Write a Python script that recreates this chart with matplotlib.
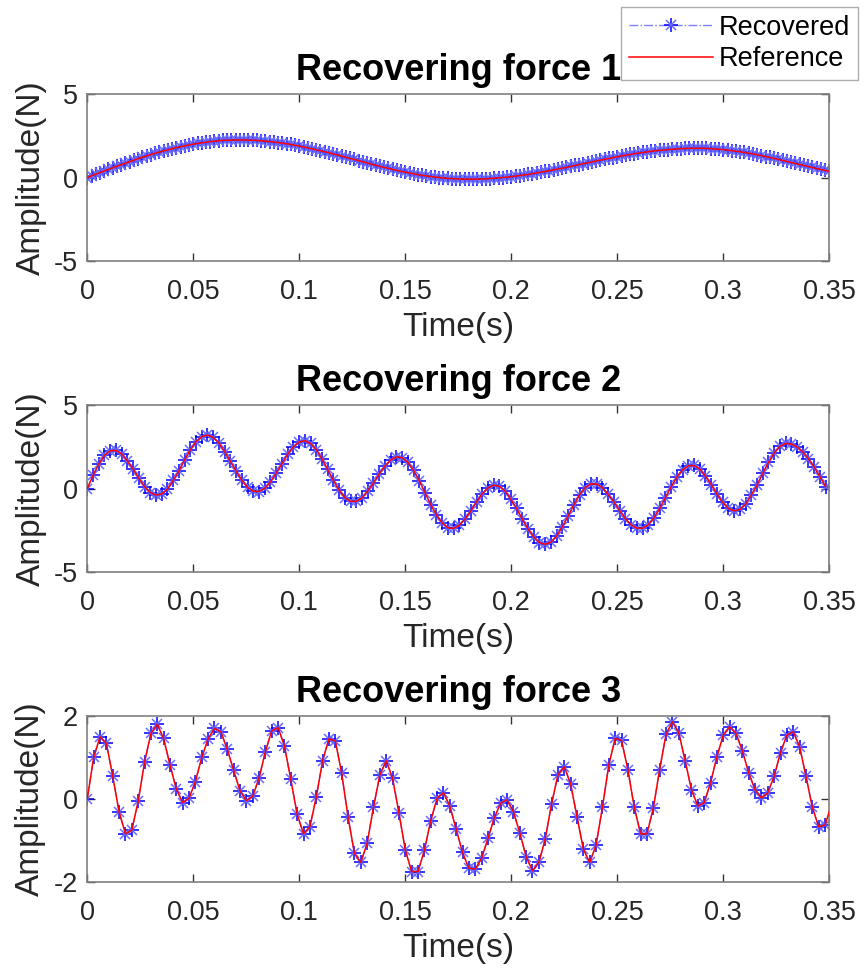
import numpy as np
import matplotlib
matplotlib.use("Agg")
import matplotlib.pyplot as plt
from matplotlib.legend_handler import HandlerTuple

plt.rcParams["font.family"] = ["Liberation Sans", "DejaVu Sans"]

# sampled recovering forces (N)
DT1 = 0.002
force1 = [
    0.00, 0.10, 0.20, 0.29, 0.39, 0.49, 0.58, 0.68, 0.77, 0.86,
    0.95, 1.04, 1.13, 1.21, 1.29, 1.37, 1.45, 1.52, 1.59, 1.66,
    1.72, 1.79, 1.84, 1.90, 1.95, 2.00, 2.04, 2.08, 2.11, 2.15,
    2.17, 2.20, 2.22, 2.23, 2.24, 2.25, 2.25, 2.25, 2.24, 2.23,
    2.22, 2.20, 2.18, 2.15, 2.13, 2.09, 2.06, 2.02, 1.98, 1.93,
    1.88, 1.83, 1.78, 1.72, 1.66, 1.60, 1.54, 1.48, 1.41, 1.35,
    1.28, 1.21, 1.14, 1.08, 1.01, 0.94, 0.87, 0.80, 0.74, 0.67,
    0.61, 0.55, 0.49, 0.43, 0.37, 0.32, 0.27, 0.22, 0.17, 0.13,
    0.09, 0.06, 0.03, 0.00, -0.03, -0.05, -0.07, -0.08, -0.09, -0.10,
    -0.10, -0.10, -0.09, -0.09, -0.08, -0.06, -0.04, -0.02, 0.00, 0.02,
    0.05, 0.08, 0.12, 0.15, 0.19, 0.23, 0.27, 0.32, 0.36, 0.41,
    0.46, 0.51, 0.56, 0.61, 0.66, 0.72, 0.77, 0.83, 0.88, 0.93,
    0.99, 1.04, 1.09, 1.14, 1.19, 1.24, 1.29, 1.33, 1.38, 1.42,
    1.46, 1.50, 1.53, 1.57, 1.60, 1.63, 1.65, 1.67, 1.69, 1.71,
    1.73, 1.74, 1.74, 1.75, 1.75, 1.75, 1.74, 1.73, 1.71, 1.69,
    1.67, 1.64, 1.61, 1.57, 1.54, 1.50, 1.45, 1.41, 1.36, 1.31,
    1.25, 1.20, 1.14, 1.08, 1.02, 0.96, 0.90, 0.84, 0.78, 0.72,
    0.66, 0.60, 0.54, 0.48, 0.43, 0.37,
]

DT2 = 0.0027
force2 = [
    0.00, 0.78, 1.46, 1.98, 2.26, 2.28, 2.07, 1.65, 1.17, 0.61,
    0.12, -0.24, -0.39, -0.33, -0.04, 0.49, 1.05, 1.71, 2.32, 2.81,
    3.11, 3.20, 3.06, 2.72, 2.21, 1.63, 1.04, 0.49, 0.07, -0.16,
    -0.18, 0.01, 0.40, 0.92, 1.49, 2.05, 2.49, 2.78, 2.86, 2.70,
    2.33, 1.77, 1.14, 0.48, -0.10, -0.54, -0.77, -0.77, -0.56, -0.14,
    0.33, 0.87, 1.35, 1.71, 1.89, 1.85, 1.57, 1.09, 0.46, -0.25,
    -0.96, -1.59, -2.06, -2.35, -2.39, -2.20, -1.83, -1.34, -0.80, -0.32,
    0.04, 0.20, 0.13, -0.15, -0.65, -1.19, -1.83, -2.42, -2.90, -3.24,
    -3.34, -3.21, -2.84, -2.28, -1.65, -0.98, -0.38, 0.06, 0.28, 0.26,
    0.05, -0.35, -0.80, -1.32, -1.81, -2.17, -2.37, -2.38, -2.17, -1.75,
    -1.19, -0.55, 0.10, 0.68, 1.12, 1.36, 1.38, 1.17, 0.74, 0.24,
    -0.33, -0.83, -1.19, -1.34, -1.25, -0.94, -0.39, 0.20, 0.90, 1.56,
    2.13, 2.52, 2.70, 2.66, 2.49, 2.19, 1.78, 1.28, 0.71, 0.11,
]

DT3 = 0.003
force3 = [
    0.00, 1.00, 1.50, 1.34, 0.55, -0.31, -0.84, -0.75, -0.06, 0.88,
    1.58, 1.80, 1.46, 0.82, 0.24, -0.09, 0.02, 0.42, 1.00, 1.45,
    1.70, 1.62, 1.20, 0.70, 0.20, -0.04, 0.06, 0.50, 1.14, 1.64,
    1.72, 1.28, 0.47, -0.37, -0.84, -0.67, 0.04, 0.92, 1.45, 1.40,
    0.62, -0.43, -1.31, -1.53, -1.07, -0.20, 0.58, 0.92, 0.50, -0.33,
    -1.23, -1.75, -1.75, -1.24, -0.53, 0.02, 0.15, -0.17, -0.73, -1.29,
    -1.67, -1.69, -1.43, -0.95, -0.45, -0.10, -0.02, -0.31, -0.81, -1.39,
    -1.73, -1.53, -0.97, -0.12, 0.58, 0.78, 0.36, -0.43, -1.21, -1.53,
    -1.11, -0.20, 0.82, 1.46, 1.41, 0.71, -0.20, -0.84, -0.84, -0.22,
    0.71, 1.56, 1.86, 1.60, 0.92, 0.22, -0.17, -0.09, 0.39, 1.02,
    1.54, 1.74, 1.58, 1.16, 0.63, 0.22, 0.02, 0.15, 0.55, 1.12,
    1.54, 1.62, 1.26, 0.55, -0.20, -0.67, -0.63,
]
force3_end = -0.30  # reference value at t = 0.35 s

titles = ["Recovering force 1", "Recovering force 2", "Recovering force 3"]
ylims = [(-5, 5), (-5, 5), (-2, 2)]
yticks = [[-5, 0, 5], [-5, 0, 5], [-2, 0, 2]]
xticks = [0, 0.05, 0.1, 0.15, 0.2, 0.25, 0.3, 0.35]
xticklabels = ["0", "0.05", "0.1", "0.15", "0.2", "0.25", "0.3", "0.35"]

t1 = np.arange(len(force1)) * DT1
t2 = np.arange(len(force2)) * DT2
t3 = np.arange(len(force3)) * DT3

series = [
    (t1, force1, t1, force1),
    (t2, force2, t2, force2),
    (t3, force3, np.append(t3, 0.35), force3 + [force3_end]),
]

fig = plt.figure(figsize=(8.65, 9.74), dpi=100)
positions = [
    [0.1009, 0.7320, 0.8578, 0.1715],
    [0.1009, 0.4127, 0.8578, 0.1715],
    [0.1009, 0.0945, 0.8578, 0.1704],
]

SPINE = "#808080"
handles = None
for i, pos in enumerate(positions):
    ax = fig.add_axes(pos)
    t_rec, rec, t_ref, ref = series[i]
    h_plus, = ax.plot(t_rec, rec, linestyle="-.", color="#8080ff", lw=1.0,
                      marker="+", markersize=10, markeredgecolor="blue",
                      markeredgewidth=1.1, zorder=2)
    h_x, = ax.plot(t_rec, rec, linestyle="none", marker="x", markersize=7,
                   markeredgecolor="#6b6bff", markeredgewidth=1.1, zorder=2)
    h_ref, = ax.plot(t_ref, ref, color="red", lw=1.1, zorder=3)
    handles = [(h_plus, h_x), h_ref]

    ax.set_xlim(0, 0.35)
    ax.set_ylim(*ylims[i])
    ax.set_xticks(xticks)
    ax.set_xticklabels(xticklabels)
    ax.set_yticks(yticks[i])
    ax.set_yticklabels([str(v) for v in yticks[i]])
    ax.tick_params(direction="in", top=True, right=True, length=6,
                   width=1, color="#333333", labelsize=19.5,
                   labelcolor="#262626")
    ax.tick_params(axis="x", pad=13)
    ax.tick_params(axis="y", pad=7)
    for sp in ax.spines.values():
        sp.set_color(SPINE)
        sp.set_linewidth(1.2)
    ax.set_title(titles[i], fontsize=26, fontweight="bold", pad=10)
    ax.set_xlabel("Time(s)", fontsize=24, labelpad=5, color="#262626")
    ax.set_ylabel("Amplitude(N)", fontsize=24, labelpad=5, color="#262626")

leg = fig.legend(handles, ["Recovered", "Reference"],
                 handler_map={tuple: HandlerTuple(ndivide=1)},
                 loc="upper right", bbox_to_anchor=(0.992, 0.993),
                 fontsize=19.5, frameon=True, fancybox=False,
                 borderaxespad=0, handlelength=3.1, handletextpad=0.2,
                 borderpad=0.3, labelspacing=0.2, numpoints=1)
leg.get_frame().set_edgecolor("#999999")
leg.get_frame().set_linewidth(1.0)

fig.savefig("out.png", dpi=100, facecolor="white")
